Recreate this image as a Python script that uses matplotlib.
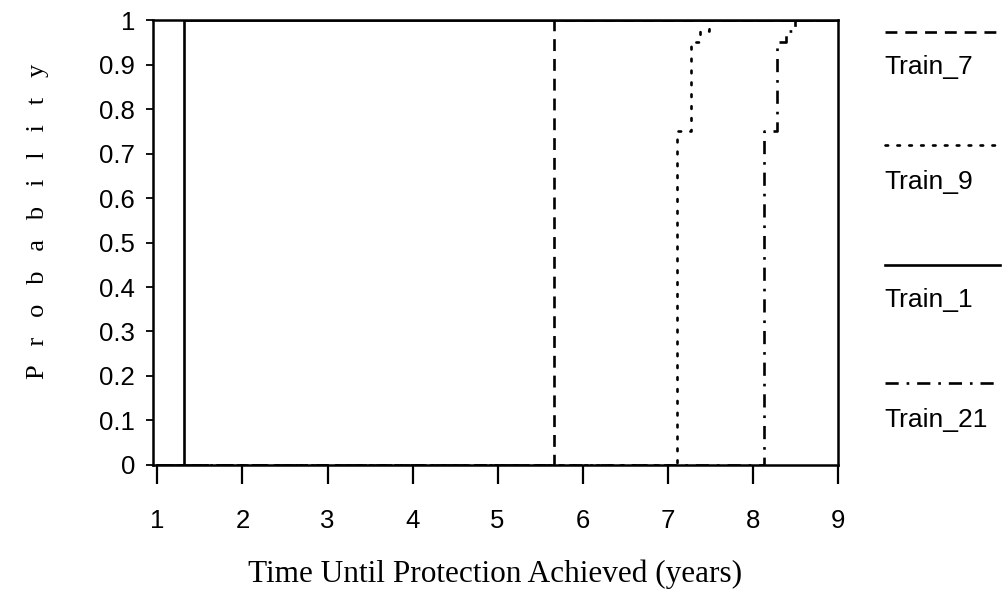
import matplotlib
matplotlib.use("Agg")
import matplotlib.pyplot as plt
from matplotlib.lines import Line2D

# tiempo (anos) y probabilidad acumulada de cada tren
train_7_t = [1.0, 5.66, 9.0]
train_7_p = [0.0, 1.0, 1.0]

train_9_t = [1.0, 7.11, 7.27, 7.38, 7.49, 9.0]
train_9_p = [0.0, 0.75, 0.95, 0.975, 1.0, 1.0]

train_1_t = [1.0, 1.31, 9.0]
train_1_p = [0.0, 1.0, 1.0]

train_21_t = [1.0, 8.13, 8.29, 8.39, 8.5, 9.0]
train_21_p = [0.0, 0.75, 0.95, 0.975, 1.0, 1.0]

labels = ["Train_7", "Train_9", "Train_1", "Train_21"]
x_ticks = [1, 2, 3, 4, 5, 6, 7, 8, 9]
y_ticks = [0, 0.1, 0.2, 0.3, 0.4, 0.5, 0.6, 0.7, 0.8, 0.9, 1]
y_tick_labels = ["0", "0.1", "0.2", "0.3", "0.4", "0.5", "0.6", "0.7", "0.8", "0.9", "1"]

sans = "Liberation Sans"
serif = "Liberation Serif"
lw = 1.9

estilos = [
    dict(linestyle=(0, (4.5, 3))),
    dict(linestyle=(0, (1, 3.5)), dash_capstyle="round"),
    dict(linestyle="-"),
    dict(linestyle=(0, (5, 3, 1, 3))),
]

fig = plt.figure(figsize=(10.08, 5.96), dpi=100)
ax = fig.add_axes([0.152, 0.22, 0.679, 0.746])

series = [(train_7_t, train_7_p), (train_9_t, train_9_p),
          (train_1_t, train_1_p), (train_21_t, train_21_p)]
for (t, p), est in zip(series, estilos):
    ax.plot(t, p, drawstyle="steps-post", color="black", linewidth=lw, **est)

ax.set_xlim(0.95, 9.0)
ax.set_ylim(0, 1)
ax.set_xticks(x_ticks)
ax.set_xticklabels([str(v) for v in x_ticks], fontfamily=sans, fontsize=18.5)
ax.set_yticks(y_ticks)
ax.set_yticklabels(y_tick_labels, fontfamily=sans, fontsize=18.5)
ax.tick_params(axis="x", direction="out", length=14, width=1.6, pad=18)
ax.tick_params(axis="y", direction="out", length=5, width=1.3, pad=8)
for s in ax.spines.values():
    s.set_linewidth(1.8)

ax.set_xlabel("Time Until Protection Achieved (years)", fontfamily=serif,
              fontsize=22.5, labelpad=19)
fig.text(0.038, 0.628, "P   r   o   b   a   b   i   l   i   t   y", rotation=90,
         fontfamily=serif, fontsize=19, ha="center", va="center")

# leyenda a la derecha: muestra de linea arriba y nombre debajo
y_lineas = [32, 145, 265, 383]
y_textos = [67, 182, 300, 420]
H = 596.0
W = 1008.0
for est, nombre, yl, yt in zip(estilos, labels, y_lineas, y_textos):
    fig.add_artist(Line2D([885 / W, 1000 / W], [1 - yl / H, 1 - yl / H],
                          color="black", linewidth=lw, **est))
    fig.text(884 / W, 1 - yt / H, nombre, fontfamily=sans, fontsize=19,
             ha="left", va="center")

fig.savefig("out.png", dpi=100)
